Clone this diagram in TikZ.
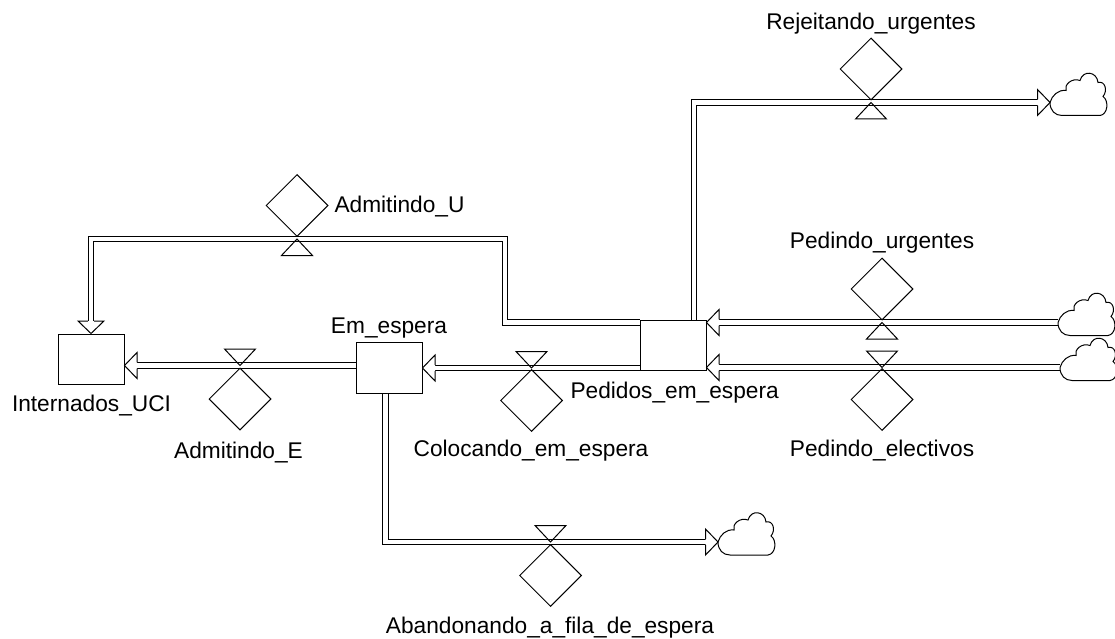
\documentclass[tikz,border=0pt]{standalone}
\usepackage{fontspec}
\setmainfont{Liberation Sans}
\usetikzlibrary{shapes.geometric}
\begin{document}
\begin{tikzpicture}[x=1pt,y=-1pt,line width=1pt,line join=miter,
  stock/.style={draw,rectangle,minimum width=66pt,minimum height=50pt,inner sep=0pt},
  rate/.style={draw,diamond,minimum width=62pt,minimum height=62pt,inner sep=0pt},
  pipe/.style={double,double distance=4.2pt,line width=1pt},
  headed/.style={shorten >=12.5pt},
  lbl/.style={inner sep=0pt,anchor=base,font=\fontsize{22.7}{26}\selectfont},
  phead/.pic={\filldraw[fill=white] (-12.5,3.1) -- (-12.5,13) -- (0,0) -- (-12.5,-13) -- (-12.5,-3.1);},
  vcloud/.pic={\draw (0,0) .. controls (0,8) and (5,13) .. (12,13) -- (50,13)
      .. controls (58,12) and (59,-2) .. (53,-6)
      .. controls (58,-12) and (55,-22) .. (48,-20)
      .. controls (47,-31) and (33,-33) .. (30,-22)
      .. controls (22,-25) and (14,-18) .. (16,-12)
      .. controls (8,-13) and (2,-7) .. (0,0) -- cycle;},
  trilow/.pic={\draw (0,0) -- (-15.5,16.5) -- (15.5,16.5) -- cycle;},
  trihigh/.pic={\draw (0,0) -- (-15.5,-16.5) -- (15.5,-16.5) -- cycle;}]
\useasboundingbox (0,0) rectangle (1115,639);

% stocks
\node[stock] (int) at (91,359) {};
\node[stock,minimum height=51pt] (esp) at (389,367.5) {};
\node[stock] (ped) at (673,345) {};

% cloud ends of the flows
\coordinate (cR) at (1050,102.5);
\coordinate (cU) at (1058,322.5);
\coordinate (cE) at (1060,367.5);
\coordinate (cA) at (718,542);

% pipe guide coordinates
\coordinate (pU) at (0,322.5);
\coordinate (pE) at (0,365.5);
\coordinate (pC) at (0,368);
\coordinate (aX) at (385.5,0);
\coordinate (rX) at (694,0);

% pipes
\draw[pipe,headed] (ped.west |- pU) -- (505,322.5) -- (505,239) -- (91,239) -- (int.north);
\draw[pipe,headed] (esp.west |- pE) -- (int.east |- pE);
\draw[pipe,headed] (ped.west |- pC) -- (esp.east |- pC);
\draw[pipe,headed] (esp.south -| aX) -- (aX |- cA) -- (cA);
\draw[pipe,headed] (ped.north -| rX) -- (rX |- cR) -- (cR);
\draw[pipe,headed] (cU) -- (ped.east |- cU);
\draw[pipe,headed] (cE) -- (ped.east |- cE);

% arrow heads
\pic[rotate=-90] at (int.north) {phead};
\pic[rotate=180] at (int.east |- pE) {phead};
\pic[rotate=180] at (esp.east |- pC) {phead};
\pic at (cA) {phead};
\pic at (cR) {phead};
\pic[rotate=180] at (ped.east |- cU) {phead};
\pic[rotate=180] at (ped.east |- cE) {phead};

% clouds
\pic at (cR) {vcloud};
\pic at (cU) {vcloud};
\pic at (cE) {vcloud};
\pic at (cA) {vcloud};

% valves and rates
\pic at (297,239) {trilow};
\node[rate] (rAU) at (297,205.5) {};
\pic at (240,365.5) {trihigh};
\node[rate] (rAE) at (240,399) {};
\pic at (531.5,368) {trihigh};
\node[rate] (rCE) at (531.5,400.5) {};
\pic at (550.5,542) {trihigh};
\node[rate] (rAF) at (550.5,575.5) {};
\pic at (871,102.5) {trilow};
\node[rate] (rRU) at (871,69) {};
\pic at (882,322.5) {trilow};
\node[rate] (rPU) at (882,289) {};
\pic at (882,367.5) {trihigh};
\node[rate] (rPE) at (882,399.5) {};

% labels
\node[lbl] at (871,30) {Rejeitando\_urgentes};
\node[lbl,anchor=base west] at (334,212.7) {Admitindo\_U};
\node[lbl] at (882,248) {Pedindo\_urgentes};
\node[lbl] at (389,333) {Em\_espera};
\node[lbl] at (91.5,411.7) {Internados\_UCI};
\node[lbl,anchor=base west] at (570,398) {Pedidos\_em\_espera};
\node[lbl] at (238.5,458) {Admitindo\_E};
\node[lbl] at (531,456.7) {Colocando\_em\_espera};
\node[lbl] at (882,456.7) {Pedindo\_electivos};
\node[lbl] at (550,633) {Abandonando\_a\_fila\_de\_espera};
\end{tikzpicture}
\end{document}
